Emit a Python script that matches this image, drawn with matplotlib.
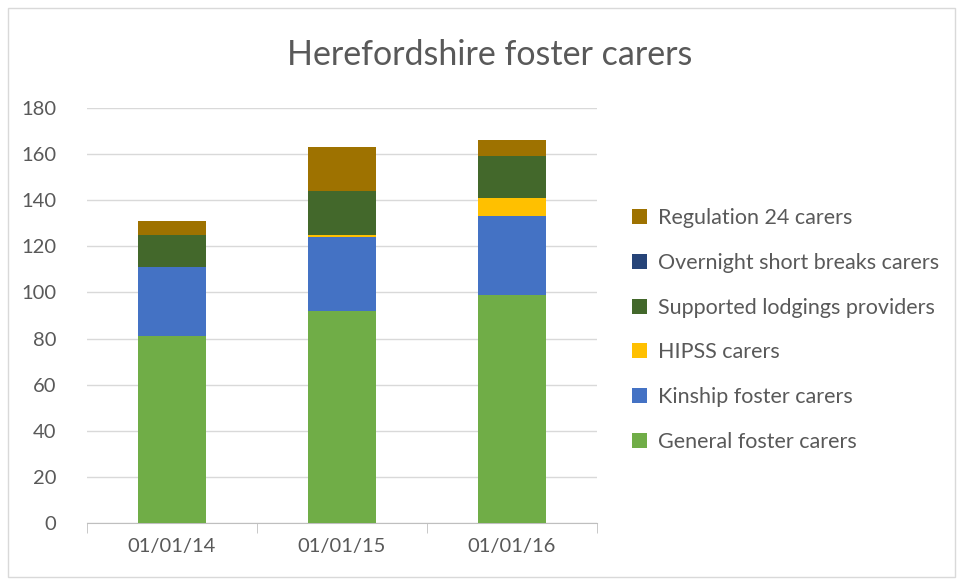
import numpy as np
import matplotlib.pyplot as plt
from matplotlib.patches import Rectangle

plt.rcParams['font.family'] = ['Lato', 'DejaVu Sans']

dates = ['01/01/14', '01/01/15', '01/01/16']
general = [81, 92, 99]
kinship = [30, 32, 34]
hipss = [0, 1, 8]
supported = [14, 19, 18]
overnight = [0, 0, 0]
regulation = [6, 19, 7]

series = [
    ('General foster carers', general, '#70AD47'),
    ('Kinship foster carers', kinship, '#4472C4'),
    ('HIPSS carers', hipss, '#FFC000'),
    ('Supported lodgings providers', supported, '#43682B'),
    ('Overnight short breaks carers', overnight, '#264478'),
    ('Regulation 24 carers', regulation, '#9E7200'),
]

fig = plt.figure(figsize=(9.57, 5.79), dpi=100)
ax = fig.add_axes([0.0909, 0.0967, 0.5329, 0.7168])

x = np.arange(len(dates))
bottom = np.zeros(len(dates))
handles = []
for name, vals, col in series:
    b = ax.bar(x, vals, 0.4, bottom=bottom, color=col, label=name, zorder=3)
    handles.append(b)
    bottom += np.array(vals)

ax.set_ylim(0, 180)
ax.set_xlim(-0.5, 2.5)
ax.set_yticks(range(0, 181, 20))
ax.set_xticks(x)
ax.set_xticklabels(dates)
ax.set_xticks([-0.5, 0.5, 1.5, 2.5], minor=True)
ax.tick_params(axis='x', which='major', length=0, pad=11, labelsize=14.5, labelcolor='#595959')
ax.tick_params(axis='x', which='minor', length=7, color='#BFBFBF')
ax.tick_params(axis='y', length=0, pad=22, labelsize=14.5, labelcolor='#595959')
ax.grid(axis='y', color='#D9D9D9', linewidth=1, zorder=0)
for s in ['top', 'right', 'left']:
    ax.spines[s].set_visible(False)
ax.spines['bottom'].set_color('#BFBFBF')

fig.text(0.512, 0.905, 'Herefordshire foster carers', ha='center', va='center',
         fontsize=24.5, color='#595959')

leg = fig.legend(handles[::-1], [s[0] for s in series][::-1], loc='center left',
                 bbox_to_anchor=(0.64, 0.43), frameon=False, fontsize=15.5,
                 labelcolor='#595959', handlelength=0.7, handleheight=0.7,
                 handletextpad=0.5, labelspacing=1.15)

fig.patches.append(Rectangle((0.008, 0.003), 0.99, 0.984, transform=fig.transFigure,
                             fill=False, edgecolor='#D9D9D9', linewidth=1))

fig.savefig('out.png', dpi=100)
